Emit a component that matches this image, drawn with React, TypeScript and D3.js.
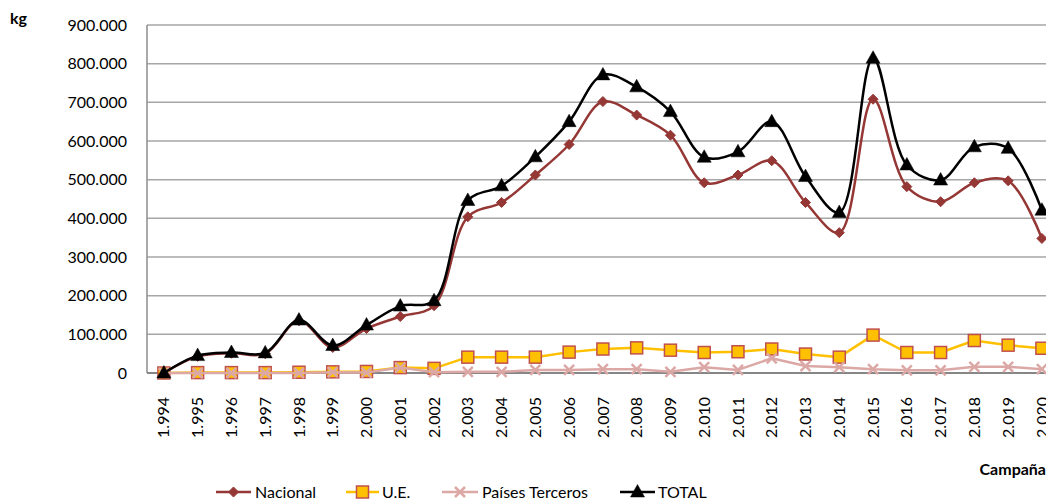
import React from "react";
import * as d3 from "d3";

// Campañas 1994–2020
const years = [
  1994, 1995, 1996, 1997, 1998, 1999, 2000, 2001, 2002, 2003, 2004, 2005, 2006,
  2007, 2008, 2009, 2010, 2011, 2012, 2013, 2014, 2015, 2016, 2017, 2018, 2019, 2020,
];

// kg por origen
const nacional = [
  0, 43000, 51000, 50000, 135000, 66000, 115000, 146000, 174000, 404000, 441000, 512000, 591000,
  702000, 667000, 615000, 492000, 512000, 549000, 441000, 363000, 708000, 482000, 443000, 492000, 497000, 348000,
];
const ue = [
  0, 1000, 1000, 1000, 2000, 3000, 4000, 14000, 12000, 41000, 41000, 41000, 54000,
  62000, 65000, 59000, 53000, 55000, 62000, 49000, 41000, 98000, 53000, 53000, 84000, 72000, 64000,
];
const terceros = [
  0, 0, 0, 0, 0, 2000, 1000, 14000, 2000, 3000, 3000, 8000, 8000,
  10000, 10000, 3000, 15000, 8000, 38000, 18000, 15000, 10000, 7000, 7000, 16000, 16000, 10000,
];
const total = [
  0, 45000, 53000, 52000, 137000, 71000, 124000, 173000, 187000, 446000, 484000, 559000, 650000,
  771000, 740000, 676000, 558000, 572000, 650000, 508000, 415000, 814000, 538000, 499000, 585000, 581000, 421000,
];

const yTicks = [0, 100000, 200000, 300000, 400000, 500000, 600000, 700000, 800000, 900000];

const legendLabels = ["Nacional", "U.E.", "Países Terceros", "TOTAL"];

const W = 1046;
const H = 501;
const FONT = "Lato, 'Open Sans', sans-serif";

const esLocale = d3.formatLocale({
  decimal: ",",
  thousands: ".",
  grouping: [3],
  currency: ["", ""],
});
const fmt = esLocale.format(",.0f");

const C_NAC = "#953735";
const C_UE = "#FFC000";
const C_UE_EDGE = "#C0504D";
const C_TER = "#DBA8A6";
const C_TOT = "#000000";

type MarkerKind = "diamond" | "square" | "x" | "triangle";

function Marker({ kind, x, y }: { kind: MarkerKind; x: number; y: number }) {
  if (kind === "diamond") {
    const r = 5;
    return (
      <path
        d={`M${x},${y - r}L${x + r},${y}L${x},${y + r}L${x - r},${y}Z`}
        fill={C_NAC}
        stroke={C_NAC}
        strokeWidth={1}
      />
    );
  }
  if (kind === "square") {
    const s = 12;
    return (
      <rect
        x={x - s / 2}
        y={y - s / 2}
        width={s}
        height={s}
        fill={C_UE}
        stroke={C_UE_EDGE}
        strokeWidth={1.5}
      />
    );
  }
  if (kind === "x") {
    const r = 5;
    return (
      <path
        d={`M${x - r},${y - r}L${x + r},${y + r}M${x - r},${y + r}L${x + r},${y - r}`}
        stroke={C_TER}
        strokeWidth={2.5}
        fill="none"
      />
    );
  }
  return (
    <path
      d={`M${x},${y - 7.5}L${x + 7},${y + 5}L${x - 7},${y + 5}Z`}
      fill={C_TOT}
      stroke={C_TOT}
      strokeWidth={0.5}
    />
  );
}

export default function App() {
  const left = 147;
  const step = 33.77;
  const x = d3
    .scaleBand<number>()
    .domain(years)
    .range([left, left + step * years.length])
    .padding(0);
  const cx = (yr: number) => (x(yr) as number) + x.bandwidth() / 2;
  const y = d3.scaleLinear().domain([0, 900000]).range([373, 25]);

  const smooth = d3
    .line<number>()
    .x((_, i) => cx(years[i]))
    .y((v) => y(v))
    .curve(d3.curveCatmullRom.alpha(0.5));
  const straight = d3
    .line<number>()
    .x((_, i) => cx(years[i]))
    .y((v) => y(v));

  const series: { data: number[]; color: string; kind: MarkerKind; smooth: boolean }[] = [
    { data: nacional, color: C_NAC, kind: "diamond", smooth: true },
    { data: ue, color: C_UE, kind: "square", smooth: false },
    { data: terceros, color: C_TER, kind: "x", smooth: false },
    { data: total, color: C_TOT, kind: "triangle", smooth: true },
  ];

  const legendPos = [
    { x0: 216, x1: 251, tx: 255 },
    { x0: 346, x1: 379, tx: 382 },
    { x0: 442, x1: 478, tx: 482 },
    { x0: 620, x1: 655, tx: 658 },
  ];
  const legendY = 492;

  return (
    <svg
      width={W}
      height={H}
      style={{ position: "absolute", left: 0, top: 0, background: "#fff" }}
      fontFamily={FONT}
    >
      <rect x={0} y={0} width={W} height={H} fill="#fff" />

      {/* gridlines */}
      {yTicks.map((t) => (
        <line
          key={t}
          x1={left}
          x2={W}
          y1={y(t)}
          y2={y(t)}
          stroke={t === 0 ? "#868686" : "#A6A6A6"}
          strokeWidth={t === 0 ? 2 : 1.5}
        />
      ))}
      <line x1={left} x2={left} y1={y(900000)} y2={y(0)} stroke="#8C8C8C" strokeWidth={1.5} />

      {/* y tick labels */}
      {yTicks.map((t) => (
        <text
          key={t}
          x={127}
          y={y(t)}
          dy="0.35em"
          textAnchor="end"
          fontSize={16}
          fill="#000"
        >
          {fmt(t)}
        </text>
      ))}
      <text x={10} y={24} fontSize={16} fontWeight="bold" fill="#000">
        kg
      </text>

      {/* x tick labels */}
      {years.map((yr) => (
        <text
          key={yr}
          transform={`translate(${cx(yr)},397) rotate(-90)`}
          dy="0.35em"
          textAnchor="end"
          fontSize={16}
          fill="#000"
        >
          {fmt(yr)}
        </text>
      ))}
      <text x={1046} y={475} textAnchor="end" fontSize={16} fontWeight="bold" fill="#000">
        Campaña
      </text>

      {/* series */}
      {series.map((s, si) => (
        <g key={si}>
          <path
            d={(s.smooth ? smooth : straight)(s.data) || ""}
            fill="none"
            stroke={s.color}
            strokeWidth={s.kind === "triangle" ? 2.5 : 2.5}
            strokeLinejoin="round"
          />
          {s.data.map((v, i) => (
            <Marker key={i} kind={s.kind} x={cx(years[i])} y={y(v)} />
          ))}
        </g>
      ))}

      {/* legend */}
      {series.map((s, i) => {
        const p = legendPos[i];
        return (
          <g key={i}>
            <line x1={p.x0} x2={p.x1} y1={legendY} y2={legendY} stroke={s.color} strokeWidth={2.5} />
            <Marker kind={s.kind} x={(p.x0 + p.x1) / 2} y={legendY} />
            <text x={p.tx} y={legendY} dy="0.35em" fontSize={16} fill="#000">
              {legendLabels[i]}
            </text>
          </g>
        );
      })}
    </svg>
  );
}
